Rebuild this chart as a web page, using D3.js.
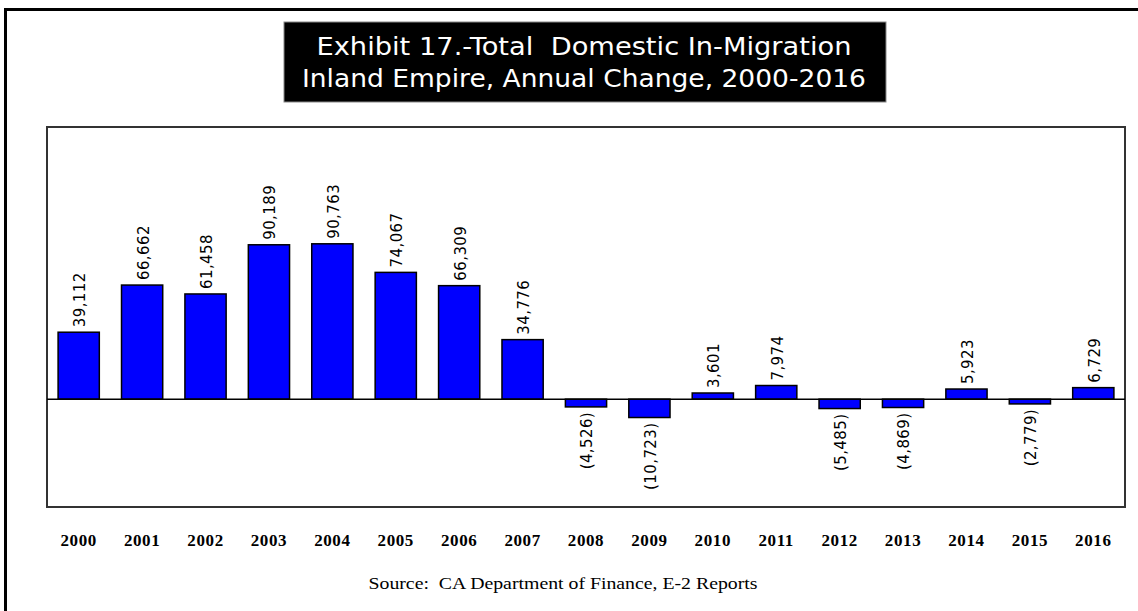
<!DOCTYPE html>
<html>
<head>
<meta charset="utf-8">
<script src="https://cdn.jsdelivr.net/npm/d3@7"></script>
<style>
  html, body { margin: 0; padding: 0; background: #fff; }
  svg { display: block; }
</style>
</head>
<body>
<svg id="chart" width="1138" height="611"></svg>
<script>
// ---- data ----
const years = ["2000","2001","2002","2003","2004","2005","2006","2007","2008",
               "2009","2010","2011","2012","2013","2014","2015","2016"];
const migration = [39112, 66662, 61458, 90189, 90763, 74067, 66309, 34776, -4526,
                   -10723, 3601, 7974, -5485, -4869, 5923, -2779, 6729];
const titleLines = ["Exhibit 17.-Total  Domestic In-Migration",
                    "Inland Empire, Annual Change, 2000-2016"];
const sourceText = "Source:  CA Department of Finance, E-2 Reports";
const yDomain = [-63000, 159000];

// ---- layout ----
const W = 1138, H = 611;
const plot = { left: 47, top: 127, right: 1125, bottom: 507 };

const svg = d3.select("#chart");

// outer frame (top and left rules)
svg.append("path")
  .attr("d", `M5.5,${H} L5.5,9.5 L${W},9.5`)
  .attr("fill", "none").attr("stroke", "#000").attr("stroke-width", 3);

// title box
svg.append("rect")
  .attr("x", 284).attr("y", 22).attr("width", 602).attr("height", 80)
  .attr("fill", "#000").attr("stroke", "#888").attr("stroke-width", 1);

const titleTargets = [535, 564];
const titleBaselines = [55, 87];
titleLines.forEach((t, i) => {
  svg.append("text")
    .attr("x", 584).attr("y", titleBaselines[i])
    .attr("text-anchor", "middle")
    .attr("font-family", "'DejaVu Sans', Verdana, sans-serif")
    .attr("font-size", 25)
    .attr("fill", "#fff")
    .attr("textLength", titleTargets[i])
    .attr("lengthAdjust", "spacingAndGlyphs")
    .style("white-space", "pre")
    .text(t);
});

// plot frame
svg.append("rect")
  .attr("x", plot.left).attr("y", plot.top)
  .attr("width", plot.right - plot.left).attr("height", plot.bottom - plot.top)
  .attr("fill", "#fff").attr("stroke", "#333").attr("stroke-width", 2);

// scales
const x = d3.scaleBand()
  .domain(years)
  .range([plot.left, plot.right])
  .paddingInner(0.35)
  .paddingOuter(0.175);

const y = d3.scaleLinear()
  .domain(yDomain)
  .range([plot.bottom, plot.top]);

const data = years.map((yr, i) => ({ year: yr, value: migration[i] }));

// bars
svg.append("g").selectAll("rect")
  .data(data)
  .join("rect")
  .attr("x", d => x(d.year))
  .attr("width", x.bandwidth())
  .attr("y", d => Math.min(y(d.value), y(0)))
  .attr("height", d => Math.abs(y(d.value) - y(0)))
  .attr("fill", "#0000ff")
  .attr("stroke", "#000")
  .attr("stroke-width", 1.5);

// zero line
svg.append("line")
  .attr("x1", plot.left).attr("x2", plot.right)
  .attr("y1", y(0)).attr("y2", y(0))
  .attr("stroke", "#000").attr("stroke-width", 1.5);

// value labels
const fmt = d3.format(",");
svg.append("g").selectAll("text")
  .data(data)
  .join("text")
  .attr("transform", d => {
    const cx = x(d.year) + x.bandwidth() / 2 + 1;
    const yy = d.value >= 0 ? y(d.value) - 5 : y(d.value) + 5;
    return `translate(${cx},${yy}) rotate(-90)`;
  })
  .attr("dy", "0.36em")
  .attr("text-anchor", d => d.value >= 0 ? "start" : "end")
  .attr("font-family", "'DejaVu Sans', Verdana, sans-serif")
  .attr("font-size", 15)
  .attr("letter-spacing", "0.4px")
  .attr("fill", "#000")
  .text(d => d.value >= 0 ? fmt(d.value) : `(${fmt(-d.value)})`);

// x axis (year labels, no line)
const xAxis = d3.axisBottom(x).tickSize(0).tickPadding(0);
const gx = svg.append("g")
  .attr("transform", `translate(0,${534})`)
  .call(xAxis);
gx.select(".domain").remove();
gx.selectAll("text")
  .attr("font-family", "'Liberation Serif', 'Times New Roman', serif")
  .attr("font-size", 17)
  .attr("font-weight", "bold")
  .attr("letter-spacing", "0.6px")
  .attr("fill", "#000");

// source
svg.append("text")
  .attr("x", 563).attr("y", 589)
  .attr("text-anchor", "middle")
  .attr("font-family", "'Liberation Serif', 'Times New Roman', serif")
  .attr("font-size", 17)
  .attr("textLength", 389)
  .attr("lengthAdjust", "spacingAndGlyphs")
  .style("white-space", "pre")
  .attr("fill", "#000")
  .text(sourceText);
</script>
</body>
</html>
